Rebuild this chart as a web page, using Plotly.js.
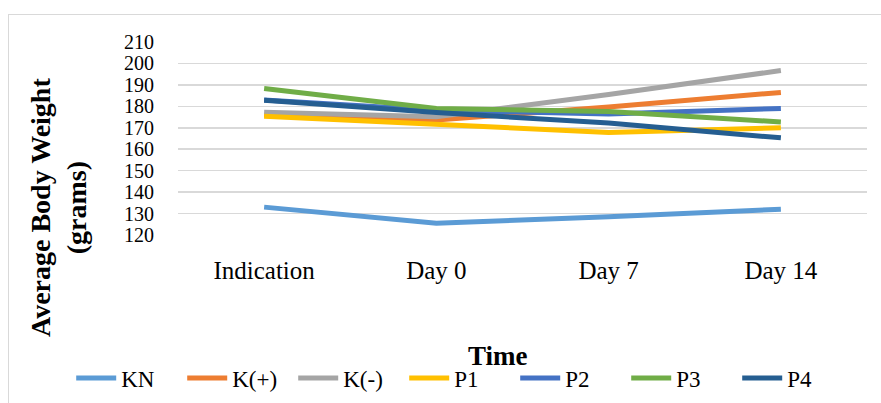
<!DOCTYPE html>
<html>
<head>
<meta charset="utf-8">
<script src="https://cdn.plot.ly/plotly-3.0.1.min.js"></script>
<style>
html,body{margin:0;padding:0;background:#fff;}
#wrap{position:relative;width:881px;height:403px;}
#chart{width:881px;height:403px;}
#frame{position:absolute;left:8px;top:14px;right:-2px;bottom:-2px;border:1px solid #d9d9d9;pointer-events:none;}
</style>
</head>
<body>
<div id="wrap"><div id="chart"></div><div id="frame"></div></div>
<script>
const categories = ["Indication", "Day 0", "Day 7", "Day 14"];
const seriesNames = ["KN", "K(+)", "K(-)", "P1", "P2", "P3", "P4"];
const KN    = [133, 125.5, 128.5, 132];
const Kplus = [176, 173.6, 179.7, 186.5];
const Kminus= [177.2, 175.1, 185.5, 196.7];
const P1    = [175.4, 171.7, 167.8, 170];
const P2    = [183, 178.2, 176.4, 179];
const P3    = [188.3, 179.0, 177.6, 172.7];
const P4    = [182.8, 177.1, 172.2, 165.3];
const yTicks = [120, 130, 140, 150, 160, 170, 180, 190, 200, 210];
const colors = ["#5B9BD5", "#ED7D31", "#A5A5A5", "#FFC000", "#4472C4", "#70AD47", "#255E91"];

const values = [KN, Kplus, Kminus, P1, P2, P3, P4];
const traces = values.map((v, i) => ({
  type: "scatter", mode: "lines", name: seriesNames[i],
  x: categories, y: v,
  line: {color: colors[i], width: 5, shape: "linear"},
  hoverinfo: "skip"
}));

const serif = "Liberation Serif, Times New Roman, serif";
const layout = {
  width: 881, height: 403,
  margin: {l: 178, r: 14, t: 42, b: 168, autoexpand: false},
  paper_bgcolor: "#ffffff", plot_bgcolor: "#ffffff",
  showlegend: true,
  font: {family: serif, color: "#000"},
  xaxis: {
    type: "category", range: [-0.5, 3.5],
    showgrid: false, zeroline: false, showline: false,
    ticks: "", tickfont: {family: serif, size: 25, color: "#000"},
    ticklabelstandoff: 18, fixedrange: true, automargin: false
  },
  yaxis: {
    range: [120, 210], tickvals: yTicks, ticktext: yTicks.map(String),
    showgrid: true, gridcolor: "#d9d9d9", gridwidth: 1.5,
    zeroline: false, showline: false, ticks: "",
    tickfont: {family: serif, size: 20, color: "#000"},
    ticklabelstandoff: 23, fixedrange: true, automargin: false
  },
  legend: {
    orientation: "h", x: -0.155, xanchor: "left", y: -0.741, yanchor: "middle",
    font: {family: serif, size: 23, color: "#000"},
    entrywidth: 56, entrywidthmode: "pixels",
    itemwidth: 40, tracegroupgap: 0, bgcolor: "rgba(0,0,0,0)"
  },
  annotations: [
    {text: "<b>Average Body Weight</b><br><b>(grams)</b>", textangle: -90,
     xref: "paper", yref: "paper", x: -0.1742, y: 0.145,
     xanchor: "center", yanchor: "middle", showarrow: false,
     font: {family: serif, size: 28, color: "#000"}},
    {text: "<b>Time</b>", xref: "paper", yref: "paper", x: 0.4644, y: -0.627,
     xanchor: "center", yanchor: "middle", showarrow: false,
     font: {family: serif, size: 27, color: "#000"}}
  ]
};
Plotly.newPlot("chart", traces, layout, {staticPlot: true, displayModeBar: false});
</script>
</body>
</html>
